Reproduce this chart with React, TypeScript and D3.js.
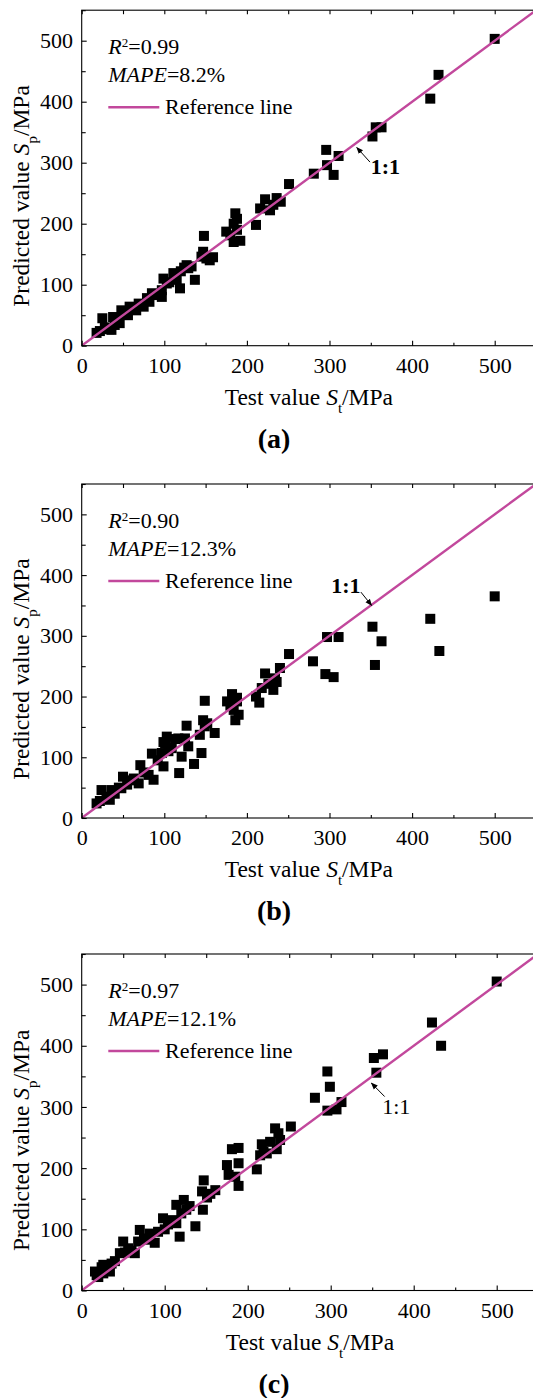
import React, { useEffect, useRef } from "react";
import * as d3 from "d3";

// [test value, predicted value] in MPa
const POINTS_A: [number, number][] = [
  [18, 21], [22, 24], [25, 45], [28, 30], [33, 27], [36, 26], [38, 47], [40, 34],
  [46, 37], [48, 58], [44, 45], [52, 52], [56, 50], [58, 64], [62, 60], [66, 58],
  [69, 69], [75, 64], [79, 78], [82, 72], [85, 86], [91, 83], [97, 80], [99, 110],
  [103, 102], [97, 91], [106, 104], [111, 119], [115, 108], [119, 94], [120, 122],
  [124, 128], [127, 132], [129, 127], [133, 130], [137, 108], [145, 146], [147, 154],
  [148, 180], [151, 143], [155, 140], [159, 145], [175, 187], [180, 181], [184, 200],
  [186, 217], [188, 190], [184, 170], [192, 172], [188, 208], [211, 198], [216, 225],
  [222, 240], [228, 222], [232, 231], [236, 242], [241, 236], [251, 265], [281, 282],
  [297, 296], [305, 280], [296, 321], [311, 311], [352, 343], [356, 358], [363, 358],
  [422, 405], [432, 444], [500, 503],
];

const POINTS_B: [number, number][] = [
  [18, 24], [22, 28], [24, 46], [30, 35], [34, 30], [36, 46], [40, 40], [45, 50],
  [48, 49], [50, 68], [55, 55], [60, 62], [63, 65], [69, 57], [71, 87], [75, 75],
  [81, 71], [85, 106], [87, 63], [92, 95], [97, 107], [99, 85], [99, 125], [101, 123],
  [103, 134], [105, 110], [109, 115], [113, 130], [117, 131], [118, 74], [121, 101],
  [125, 131], [127, 152], [129, 118], [136, 89], [143, 137], [145, 107], [147, 161],
  [149, 151], [149, 193], [152, 156], [161, 140], [176, 192], [180, 185], [182, 204],
  [184, 178], [186, 161], [188, 192], [190, 170], [188, 198], [211, 200], [215, 190],
  [218, 214], [222, 238], [226, 221], [232, 211], [234, 230], [240, 247], [236, 224],
  [251, 270], [280, 258], [295, 237], [297, 298], [305, 232], [311, 298], [352, 315],
  [355, 252], [363, 291], [422, 328], [433, 275], [500, 365],
];

const POINTS_C: [number, number][] = [
  [16, 31], [18, 25], [20, 22], [24, 38], [26, 42], [26, 28], [30, 36], [34, 31],
  [36, 44], [40, 48], [46, 61], [50, 80], [52, 62], [56, 69], [60, 65], [64, 61],
  [68, 80], [70, 99], [75, 85], [78, 83], [82, 93], [88, 78], [92, 96], [98, 118],
  [100, 100], [104, 108], [110, 115], [114, 140], [114, 110], [118, 88], [120, 126],
  [123, 148], [126, 132], [130, 138], [137, 105], [145, 162], [147, 180], [146, 132],
  [151, 152], [155, 158], [161, 164], [175, 205], [177, 189], [181, 231], [185, 186],
  [189, 233], [189, 208], [189, 171], [211, 198], [215, 221], [217, 239], [219, 227],
  [223, 224], [227, 243], [233, 265], [235, 231], [237, 257], [239, 246], [252, 268],
  [281, 315], [296, 294], [296, 358], [299, 333], [307, 296], [313, 308], [352, 380],
  [355, 356], [363, 386], [422, 438], [433, 400], [500, 505],
];

const MAJOR_TICKS = [0, 100, 200, 300, 400, 500];
const MINOR_TICKS = [50, 150, 250, 350, 450, 550];
const R2_VALUES = ["0.99", "0.90", "0.97"];
const MAPE_VALUES = ["8.2%", "12.3%", "12.1%"];
const PANEL_NAMES = ["(a)", "(b)", "(c)"];

const FONT = "'Liberation Serif', 'Times New Roman', serif";
const LINE_COLOR = "#c2489c";

// pixel frame of each panel, and where the "1:1" note sits (in data units)
const LAYOUT = [
  { top: 10.2, bottom: 345.7, left: 81.7, right: 536, note: [350, 282], tail: [349, 301], head: [333, 325], bold: true },
  { top: 484, bottom: 818, left: 81.7, right: 536, note: [302, 370], tail: [338, 372], head: [351, 350], bold: true },
  { top: 954, bottom: 1290.5, left: 81.7, right: 538.2, note: [362, 289], tail: [365, 317], head: [349, 339], bold: false },
];

const PANELS = [POINTS_A, POINTS_B, POINTS_C];

export default function App() {
  const ref = useRef<SVGSVGElement>(null);

  useEffect(() => {
    const svg = d3.select(ref.current);
    svg.selectAll("*").remove();

    svg.append("defs").append("marker")
      .attr("id", "arrow")
      .attr("viewBox", "0 0 10 10")
      .attr("refX", 9).attr("refY", 5)
      .attr("markerWidth", 7).attr("markerHeight", 7)
      .attr("markerUnits", "userSpaceOnUse")
      .attr("orient", "auto")
      .append("path").attr("d", "M0,1 L10,5 L0,9 z").attr("fill", "#000");

    PANELS.forEach((data, i) => {
      const L = LAYOUT[i];
      const x = d3.scaleLinear().domain([0, 550]).range([L.left, L.right]);
      const y = d3.scaleLinear().domain([0, 550]).range([L.bottom, L.top]);
      const g = svg.append("g").attr("font-family", FONT);

      g.append("clipPath").attr("id", `clip${i}`)
        .append("rect")
        .attr("x", L.left).attr("y", L.top)
        .attr("width", L.right - L.left).attr("height", L.bottom - L.top);

      // points
      g.append("g")
        .selectAll("rect")
        .data(data)
        .join("rect")
        .attr("x", d => x(d[0]) - 5)
        .attr("y", d => y(d[1]) - 5)
        .attr("width", 10)
        .attr("height", 10)
        .attr("fill", "#000");

      // 1:1 reference line
      const line = d3.line<number>().x(d => x(d)).y(d => y(d));
      g.append("path")
        .attr("d", line([0, 550]))
        .attr("clip-path", `url(#clip${i})`)
        .attr("stroke", LINE_COLOR)
        .attr("stroke-width", 2.4)
        .attr("fill", "none");

      // frame
      g.append("rect")
        .attr("x", L.left).attr("y", L.top)
        .attr("width", L.right - L.left).attr("height", L.bottom - L.top)
        .attr("fill", "none").attr("stroke", "#000").attr("stroke-width", 1.1);

      const styleAxis = (a: any) => {
        a.select(".domain").remove();
        a.attr("font-family", FONT).attr("font-size", 22).attr("color", "#000");
        a.selectAll("line").attr("stroke-width", 1.1);
      };

      g.append("g").attr("transform", `translate(0,${L.bottom})`)
        .call(d3.axisBottom(x).tickValues(MAJOR_TICKS).tickSize(-5).tickPadding(11.5).tickFormat(d3.format("d")))
        .call(styleAxis);
      g.append("g").attr("transform", `translate(0,${L.bottom})`)
        .call(d3.axisBottom(x).tickValues(MINOR_TICKS).tickSize(-3).tickFormat(() => ""))
        .call(styleAxis);
      g.append("g").attr("transform", `translate(0,${L.top})`)
        .call(d3.axisTop(x).tickValues(MAJOR_TICKS.concat(MINOR_TICKS)).tickSize(-4).tickFormat(() => ""))
        .call(styleAxis);
      g.append("g").attr("transform", `translate(${L.left},0)`)
        .call(d3.axisLeft(y).tickValues(MAJOR_TICKS).tickSize(-5).tickPadding(8.7).tickFormat(d3.format("d")))
        .call(styleAxis);
      g.append("g").attr("transform", `translate(${L.left},0)`)
        .call(d3.axisLeft(y).tickValues(MINOR_TICKS).tickSize(-4).tickFormat(() => ""))
        .call(styleAxis);

      // statistics
      const r2 = g.append("text")
        .attr("x", L.left + 26.6).attr("y", L.top + 44)
        .attr("font-size", 22);
      r2.append("tspan").attr("font-style", "italic").text("R");
      r2.append("tspan").attr("font-size", 13).attr("dy", -7).text("2");
      r2.append("tspan").attr("dy", 7).text(`=${R2_VALUES[i]}`);

      const mape = g.append("text")
        .attr("x", L.left + 26.6).attr("y", L.top + 72)
        .attr("font-size", 22);
      mape.append("tspan").attr("font-style", "italic").text("MAPE");
      mape.append("tspan").text(`=${MAPE_VALUES[i]}`);

      g.append("line")
        .attr("x1", L.left + 26.6).attr("x2", L.left + 77.6)
        .attr("y1", L.top + 97).attr("y2", L.top + 97)
        .attr("stroke", LINE_COLOR).attr("stroke-width", 2.4);
      g.append("text")
        .attr("x", L.left + 83.3).attr("y", L.top + 104)
        .attr("font-size", 22)
        .text("Reference line");

      // 1:1 note
      g.append("text")
        .attr("x", x(L.note[0])).attr("y", y(L.note[1]))
        .attr("font-size", 22)
        .attr("font-weight", L.bold ? "bold" : "normal")
        .text("1:1");
      g.append("line")
        .attr("x1", x(L.tail[0])).attr("y1", y(L.tail[1]))
        .attr("x2", x(L.head[0])).attr("y2", y(L.head[1]))
        .attr("stroke", "#000").attr("stroke-width", 1)
        .attr("marker-end", "url(#arrow)");

      // axis titles
      const xt = g.append("text")
        .attr("x", (L.left + L.right) / 2).attr("y", L.bottom + 59)
        .attr("text-anchor", "middle").attr("font-size", 23.5);
      xt.append("tspan").text("Test value ");
      xt.append("tspan").attr("font-style", "italic").text("S");
      xt.append("tspan").attr("font-size", 15).attr("dy", 8).text("t");
      xt.append("tspan").attr("dy", -8).text("/MPa");

      const yt = g.append("text")
        .attr("transform", `translate(29,${(L.top + L.bottom) / 2 + 18}) rotate(-90)`)
        .attr("text-anchor", "middle").attr("font-size", 23.5);
      yt.append("tspan").text("Predicted value ");
      yt.append("tspan").attr("font-style", "italic").text("S");
      yt.append("tspan").attr("font-size", 15).attr("dy", 8).text("p");
      yt.append("tspan").attr("dy", -8).text("/MPa");

      g.append("text")
        .attr("x", 274).attr("y", L.bottom + 102)
        .attr("text-anchor", "middle")
        .attr("font-size", 28).attr("font-weight", "bold")
        .text(PANEL_NAMES[i]);
    });
  }, []);

  return (
    <svg
      ref={ref}
      width={533}
      height={1398}
      style={{ position: "absolute", left: 0, top: 0, background: "#fff" }}
    />
  );
}
